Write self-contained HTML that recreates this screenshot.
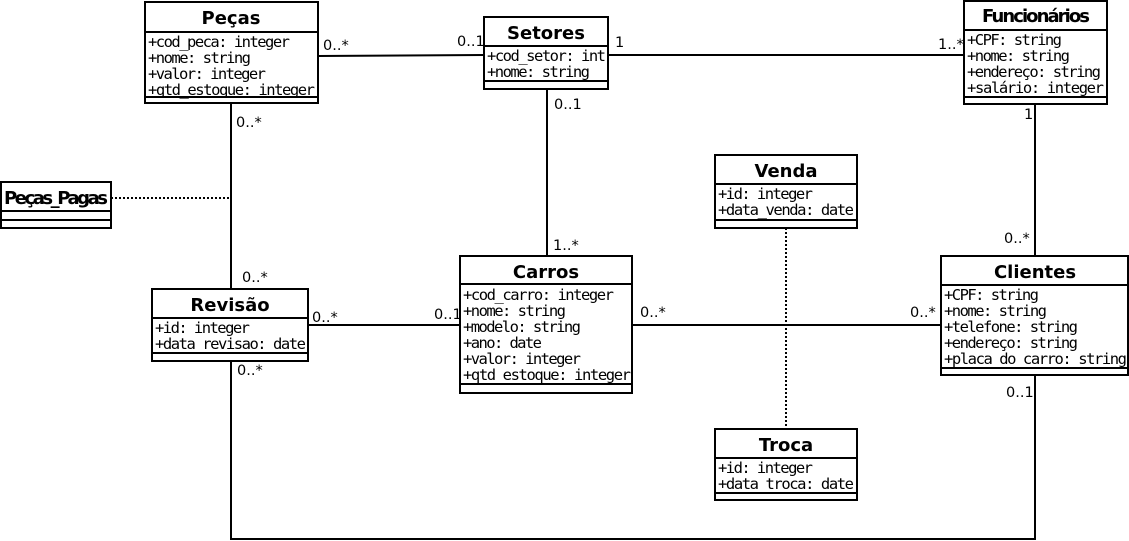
<!DOCTYPE html>
<html><head><meta charset="utf-8"><style>
html,body{margin:0;padding:0;background:#fff;}
svg{display:block;}
.t{font-family:"DejaVu Sans","Liberation Sans",sans-serif;font-weight:bold;font-size:18px;text-anchor:middle;}
.a{font-family:"DejaVu Sans Mono","Liberation Mono",monospace;font-size:15.5px;}
.m{font-family:"DejaVu Sans","Liberation Sans",sans-serif;font-size:14.5px;}
</style></head><body>
<svg width="1129" height="541" viewBox="0 0 1129 541" xmlns="http://www.w3.org/2000/svg">
<g stroke="#000" stroke-width="2" fill="none">
<line x1="318" y1="56" x2="484" y2="55"/>
<line x1="608" y1="55" x2="964" y2="55"/>
<line x1="231" y1="103" x2="231" y2="289"/>
<line x1="547" y1="89" x2="547" y2="256"/>
<line x1="1035" y1="104" x2="1035" y2="256"/>
<line x1="308" y1="325" x2="460" y2="325"/>
<line x1="632" y1="325" x2="941" y2="325"/>
<polyline points="231,361 231,539 1035,539 1035,375"/>
<line x1="111" y1="198" x2="231" y2="198" stroke-dasharray="2,2"/>
<line x1="786" y1="228" x2="786" y2="429" stroke-dasharray="2,2"/>
</g>
<g stroke="#000" stroke-width="2" fill="#fff">
<rect x="145" y="2" width="173" height="101"/><line x1="145" y1="32" x2="318" y2="32"/><line x1="145" y1="97" x2="318" y2="97"/>
<rect x="484" y="17" width="124" height="72"/><line x1="484" y1="46" x2="608" y2="46"/><line x1="484" y1="81" x2="608" y2="81"/>
<rect x="964" y="1" width="143" height="103"/><line x1="964" y1="30" x2="1107" y2="30"/><line x1="964" y1="97" x2="1107" y2="97"/>
<rect x="1" y="182" width="110" height="46"/><line x1="1" y1="211" x2="111" y2="211"/><line x1="1" y1="220" x2="111" y2="220"/>
<rect x="715" y="155" width="142" height="73"/><line x1="715" y1="184" x2="857" y2="184"/><line x1="715" y1="220" x2="857" y2="220"/>
<rect x="152" y="289" width="156" height="72"/><line x1="152" y1="318" x2="308" y2="318"/><line x1="152" y1="353" x2="308" y2="353"/>
<rect x="460" y="256" width="172" height="137"/><line x1="460" y1="284" x2="632" y2="284"/><line x1="460" y1="384" x2="632" y2="384"/>
<rect x="941" y="256" width="187" height="119"/><line x1="941" y1="285" x2="1128" y2="285"/><line x1="941" y1="368" x2="1128" y2="368"/>
<rect x="715" y="429" width="142" height="71"/><line x1="715" y1="458" x2="857" y2="458"/><line x1="715" y1="493" x2="857" y2="493"/>
</g>
<g fill="#000">
<text class="t" x="231" y="24">Peças</text>
<text class="a" x="148" y="47" textLength="142">+cod_peca: integer</text>
<text class="a" x="148" y="63" textLength="103">+nome: string</text>
<text class="a" x="148" y="79" textLength="118">+valor: integer</text>
<text class="a" x="148" y="95" textLength="167">+qtd_estoque: integer</text>
<text class="t" x="546" y="39">Setores</text>
<text class="a" x="487" y="61" textLength="119">+cod_setor: int</text>
<text class="a" x="487" y="77" textLength="103">+nome: string</text>
<text class="t" x="1036" y="22" textLength="108">Funcionários</text>
<text class="a" x="967" y="45" textLength="95">+CPF: string</text>
<text class="a" x="967" y="61" textLength="103">+nome: string</text>
<text class="a" x="967" y="77" textLength="134">+endereço: string</text>
<text class="a" x="967" y="93" textLength="137">+salário: integer</text>
<text class="t" x="56" y="204" textLength="104">Peças_Pagas</text>
<text class="t" x="786" y="177">Venda</text>
<text class="a" x="718" y="199" textLength="95">+id: integer</text>
<text class="a" x="718" y="215" textLength="136">+data_venda: date</text>
<text class="t" x="230" y="311">Revisão</text>
<text class="a" x="155" y="333" textLength="95">+id: integer</text>
<text class="a" x="155" y="349" textLength="151">+data_revisao: date</text>
<text class="t" x="546" y="278">Carros</text>
<text class="a" x="463" y="300" textLength="151">+cod_carro: integer</text>
<text class="a" x="463" y="316" textLength="103">+nome: string</text>
<text class="a" x="463" y="332" textLength="118">+modelo: string</text>
<text class="a" x="463" y="348" textLength="79">+ano: date</text>
<text class="a" x="463" y="364" textLength="118">+valor: integer</text>
<text class="a" x="463" y="380" textLength="168">+qtd_estoque: integer</text>
<text class="t" x="1035" y="278">Clientes</text>
<text class="a" x="944" y="300" textLength="95">+CPF: string</text>
<text class="a" x="944" y="316" textLength="103">+nome: string</text>
<text class="a" x="944" y="332" textLength="134">+telefone: string</text>
<text class="a" x="944" y="348" textLength="134">+endereço: string</text>
<text class="a" x="944" y="364" textLength="183">+placa_do_carro: string</text>
<text class="t" x="786" y="451">Troca</text>
<text class="a" x="718" y="473" textLength="95">+id: integer</text>
<text class="a" x="718" y="489" textLength="136">+data_troca: date</text>
<text class="m" x="323" y="50">0..*</text>
<text class="m" x="457" y="46">0..1</text>
<text class="m" x="615" y="47">1</text>
<text class="m" x="938" y="49">1..*</text>
<text class="m" x="236" y="127">0..*</text>
<text class="m" x="554" y="109">0..1</text>
<text class="m" x="1024" y="119">1</text>
<text class="m" x="553" y="250">1..*</text>
<text class="m" x="1004" y="243">0..*</text>
<text class="m" x="242" y="282">0..*</text>
<text class="m" x="312" y="322">0..*</text>
<text class="m" x="434" y="319">0..1</text>
<text class="m" x="640" y="317">0..*</text>
<text class="m" x="910" y="317">0..*</text>
<text class="m" x="237" y="375">0..*</text>
<text class="m" x="1006" y="397">0..1</text>
</g>
</svg>
</body></html>
